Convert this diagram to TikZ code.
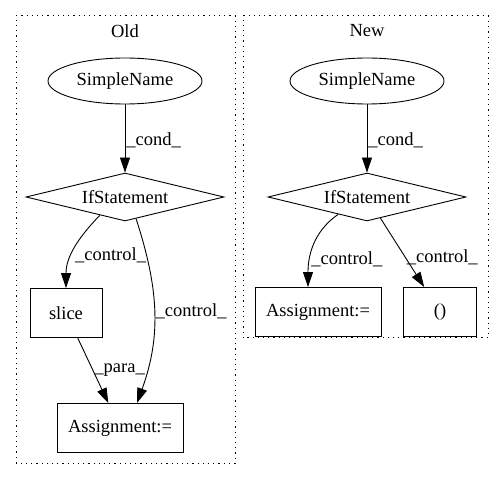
\documentclass[tikz,border=0pt]{standalone}
\usepackage{fontspec}
\setmainfont{Liberation Serif}
\usepackage{tikz}
\usetikzlibrary{arrows.meta}
\usetikzlibrary{positioning,shapes.geometric}

\begin{document}
\begin{tikzpicture}[
x=1pt,y=1pt,
every node/.style={font=\fontsize{18.5}{20}\selectfont},
MyEllipses/.style={ellipse,draw,line width=0.9pt,inner sep=0pt,minimum width=154pt,minimum height=46pt},
MyDiamonds/.style={diamond,draw,line width=0.9pt,aspect=4.1,inner sep=0pt,minimum width=198pt,minimum height=48pt},
MyBoxes/.style={rectangle,draw,line width=0.9pt,inner sep=0pt,minimum height=49pt},
Edges/.style={-{Triangle[length=15pt,width=10pt]},line width=0.9pt},
EdgeLabels/.style={anchor=west,inner sep=1pt},
Clusters/.style={draw,line width=1pt,dash pattern=on 1.2pt off 4pt}
]
\useasboundingbox (0,0) rectangle (504,480);

% clusters
\draw[Clusters] (16,17) rectangle (235,464);
\draw[Clusters] (243,142) rectangle (488,464);
\node (OldLabel) at (125,449) {Old};
\node (NewLabel) at (367,449) {New};

% Old
\node[MyEllipses] (SNa) at (125,399) {SimpleName};
\node[MyDiamonds] (IFa) at (125,283) {IfStatement};
\node[MyBoxes,minimum width=72pt] (Slice) at (66,167) {slice};
\node[MyBoxes,minimum width=126pt] (ASa) at (120,52) {Assignment:=};

\draw[Edges] (SNa) -- (IFa) node[midway,EdgeLabels,yshift=-2pt]{\_cond\_};
\draw[Edges] (IFa.216) to[out=226,in=90] node[pos=0.6,EdgeLabels,xshift=2pt]{\_control\_} (Slice.north);
\draw[Edges] (IFa.-63) to[out=-72,in=70] node[pos=0.5,EdgeLabels]{\_control\_} ([xshift=17pt]ASa.north);
\draw[Edges] (Slice) -- (ASa) node[midway,EdgeLabels]{\_para\_};

% New
\node[MyEllipses] (SNb) at (367,399) {SimpleName};
\node[MyDiamonds] (IFb) at (367,283) {IfStatement};
\node[MyBoxes,minimum width=126pt] (ASb) at (318,168) {Assignment:=};
\node[MyBoxes,minimum width=73pt] (Tup) at (440,168) {()};

\draw[Edges] (SNb) -- (IFb) node[midway,EdgeLabels,yshift=-2pt]{\_cond\_};
\draw[Edges] (IFb.211) to[out=215,in=90] node[pos=0.68,EdgeLabels]{\_control\_} ([xshift=-10pt]ASb.north);
\draw[Edges] (IFb) -- (Tup) node[pos=0.57,EdgeLabels]{\_control\_};

\end{tikzpicture}
\end{document}
